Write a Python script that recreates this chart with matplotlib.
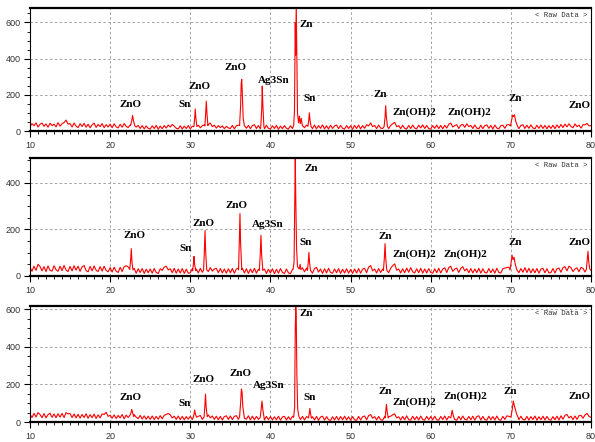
import numpy as np
import matplotlib.pyplot as plt
from matplotlib.ticker import MultipleLocator

# 2theta grid of the background lists: 10.00 .. 80.00 step 0.25
bg_start, bg_step = 10.0, 0.25

# background counts, 20 values per 5 degrees
bg1 = [24, 41, 29, 45, 22, 37, 44, 26, 39, 21, 43, 30, 38, 23, 46, 27, 40, 47, 60, 38,
       41, 22, 44, 27, 19, 40, 25, 42, 21, 38, 18, 34, 44, 20, 36, 24, 41, 19, 35, 22,
       38, 18, 40, 23, 17, 37, 21, 41, 25, 19, 33, 40, 36, 22, 31, 14, 30, 12, 28, 15,
       11, 29, 14, 31, 10, 27, 13, 30, 16, 33, 22, 36, 27, 15, 12, 29, 11, 27, 14, 30,
       12, 26, 30, 15, 32, 18, 29, 34, 14, 36, 44, 24, 32, 16, 30, 19, 28, 13, 26, 17,
       14, 31, 12, 29, 33, 16, 36, 20, 15, 31, 13, 30, 35, 14, 30, 12, 28, 13, 32, 15,
       11, 29, 14, 31, 10, 27, 13, 30, 15, 11, 29, 14, 32, 16, 33, 24, 30, 18, 33, 16,
       31, 13, 33, 12, 30, 15, 34, 12, 29, 11, 32, 14, 28, 33, 13, 31, 15, 11, 30, 14,
       29, 10, 31, 14, 33, 12, 30, 15, 35, 28, 45, 24, 31, 13, 33, 16, 14, 32, 18, 13,
       31, 40, 48, 24, 30, 13, 32, 15, 11, 31, 14, 33, 16, 12, 32, 17, 34, 14, 31, 13,
       11, 30, 15, 33, 13, 31, 12, 32, 16, 37, 44, 22, 30, 35, 14, 32, 37, 20, 40, 24,
       31, 14, 33, 16, 12, 32, 13, 30, 34, 15, 31, 11, 33, 16, 12, 30, 32, 15, 34, 36,
       30, 27, 24, 28, 13, 31, 35, 14, 32, 15, 34, 17, 12, 32, 15, 33, 14, 31, 12, 30,
       14, 32, 13, 34, 17, 36, 19, 38, 23, 40, 25, 18, 39, 24, 33, 16, 35, 34, 42, 28,
       30]
bg2 = [38, 20, 42, 24, 50, 41, 22, 40, 19, 43, 24, 21, 44, 27, 20, 42, 23, 45, 26, 19,
       41, 22, 44, 25, 42, 20, 39, 45, 23, 18, 41, 22, 43, 25, 19, 40, 21, 42, 24, 18,
       36, 17, 38, 21, 15, 37, 19, 40, 44, 39, 22, 16, 33, 12, 31, 15, 32, 11, 29, 14,
       30, 12, 32, 15, 11, 31, 24, 38, 42, 26, 31, 14, 33, 12, 30, 13, 32, 11, 29, 12,
       14, 31, 11, 30, 13, 33, 16, 12, 34, 19, 36, 21, 30, 33, 14, 32, 13, 30, 12, 31,
       14, 32, 12, 30, 34, 15, 33, 13, 31, 11, 30, 14, 33, 12, 29, 32, 13, 30, 11, 29,
       13, 31, 10, 29, 12, 32, 15, 11, 30, 13, 10, 28, 32, 22, 38, 20, 35, 18, 34, 16,
       29, 12, 32, 37, 17, 30, 11, 31, 13, 33, 15, 12, 30, 14, 32, 11, 29, 13, 31, 12,
       28, 11, 30, 13, 32, 12, 29, 33, 14, 38, 45, 22, 30, 13, 32, 15, 30, 12, 31, 14,
       33, 44, 52, 25, 30, 13, 31, 14, 34, 16, 36, 18, 13, 31, 14, 33, 12, 30, 13, 32,
       15, 12, 31, 14, 33, 13, 30, 35, 15, 36, 42, 20, 30, 34, 15, 33, 40, 22, 31, 14,
       32, 13, 30, 14, 33, 12, 31, 15, 13, 32, 14, 30, 12, 33, 15, 13, 31, 34, 36, 38,
       33, 29, 25, 28, 14, 32, 16, 36, 15, 33, 13, 31, 14, 32, 12, 30, 33, 14, 31, 13,
       15, 32, 13, 31, 34, 16, 36, 40, 22, 42, 36, 19, 30, 35, 18, 37, 33, 17, 36, 20,
       24]
bg3 = [42, 24, 46, 27, 50, 40, 23, 45, 22, 39, 47, 25, 43, 23, 44, 26, 46, 24, 50, 44,
       45, 24, 43, 22, 41, 21, 40, 24, 44, 20, 39, 23, 42, 19, 38, 22, 43, 40, 52, 30,
       36, 20, 38, 19, 35, 22, 40, 17, 37, 24, 42, 44, 40, 26, 18, 35, 16, 33, 15, 31,
       14, 32, 13, 30, 15, 34, 17, 36, 40, 46, 38, 22, 31, 14, 32, 13, 30, 12, 29, 15,
       31, 13, 33, 15, 30, 35, 14, 33, 36, 38, 22, 32, 14, 31, 12, 30, 11, 29, 33, 14,
       32, 13, 30, 34, 14, 32, 36, 20, 15, 33, 12, 31, 12, 30, 14, 33, 13, 11, 30, 12,
       29, 11, 28, 12, 31, 10, 27, 30, 11, 28, 12, 31, 33, 14, 32, 13, 30, 11, 29, 12,
       10, 28, 11, 30, 9, 27, 31, 10, 29, 12, 9, 28, 11, 30, 10, 29, 12, 31, 11, 28,
       10, 29, 12, 9, 30, 11, 28, 32, 12, 34, 40, 20, 29, 11, 30, 12, 10, 29, 11, 28,
       31, 38, 44, 22, 28, 11, 30, 12, 33, 13, 10, 31, 12, 29, 11, 32, 13, 10, 30, 12,
       29, 11, 31, 12, 10, 30, 13, 32, 11, 29, 12, 31, 13, 10, 30, 12, 32, 14, 11, 30,
       12, 31, 10, 29, 33, 11, 30, 13, 10, 31, 12, 29, 11, 32, 13, 10, 30, 14, 33, 30,
       32, 28, 24, 27, 12, 31, 14, 11, 30, 10, 29, 13, 32, 10, 28, 12, 31, 11, 30, 13,
       10, 29, 12, 31, 11, 33, 15, 36, 40, 22, 31, 13, 32, 14, 34, 36, 20, 38, 46, 30,
       25]

# peak profiles (2theta, counts)
peaks1 = [
    [(22.55, 30), (22.7, 58), (22.8, 86), (22.92, 55), (23.1, 27)],
    [(30.45, 24), (30.55, 75), (30.62, 122), (30.7, 70), (30.82, 25)],
    [(31.82, 28), (31.92, 95), (32.0, 165), (32.08, 98), (32.2, 30)],
    [(36.15, 30), (36.28, 140), (36.35, 262), (36.42, 285), (36.5, 200), (36.6, 70), (36.75, 30)],
    [(38.8, 26), (38.92, 130), (38.98, 248), (39.05, 150), (39.18, 28)],
    [(42.9, 30), (43.0, 110), (43.1, 600), (43.15, 420), (43.22, 700), (43.3, 380), (43.38, 100),
     (43.5, 45), (43.62, 82), (43.72, 40), (43.85, 70), (43.98, 30)],
    [(44.68, 26), (44.78, 60), (44.86, 100), (44.95, 55), (45.08, 24)],
    [(54.18, 24), (54.3, 75), (54.38, 140), (54.46, 80), (54.6, 26)],
    [(69.95, 28), (70.1, 60), (70.22, 88), (70.32, 80), (70.45, 90), (70.6, 55), (70.8, 30)],
]
peaks2 = [
    [(22.45, 28), (22.56, 70), (22.64, 117), (22.72, 62), (22.85, 26)],
    [(30.3, 22), (30.4, 55), (30.46, 84), (30.54, 50), (30.68, 23)],
    [(31.66, 25), (31.76, 110), (31.84, 195), (31.92, 105), (32.05, 26)],
    [(36.02, 26), (36.12, 150), (36.2, 268), (36.28, 140), (36.42, 28)],
    [(38.62, 24), (38.74, 100), (38.82, 175), (38.9, 95), (39.05, 24)],
    [(42.82, 28), (42.95, 60), (43.03, 300), (43.1, 510), (43.17, 320), (43.26, 120),
     (43.38, 40), (43.6, 30), (43.7, 50), (43.8, 28)],
    [(44.62, 24), (44.72, 60), (44.8, 101), (44.88, 58), (45.0, 24)],
    [(54.1, 24), (54.22, 80), (54.3, 139), (54.38, 78), (54.52, 24)],
    [(69.9, 26), (70.05, 65), (70.15, 89), (70.28, 70), (70.4, 80), (70.55, 50), (70.75, 26)],
    [(79.42, 28), (79.52, 65), (79.62, 106), (79.72, 60), (79.85, 30)],
]
peaks3 = [
    [(22.5, 38), (22.62, 52), (22.7, 67), (22.8, 50), (22.95, 30)],
    [(30.38, 27), (30.48, 45), (30.55, 64), (30.63, 44), (30.78, 26)],
    [(31.72, 27), (31.82, 85), (31.9, 149), (31.98, 80), (32.12, 28)],
    [(36.15, 28), (36.28, 100), (36.38, 176), (36.46, 160), (36.56, 80), (36.72, 28)],
    [(38.72, 24), (38.85, 70), (38.95, 112), (39.05, 68), (39.2, 24)],
    [(42.9, 25), (43.02, 80), (43.1, 500), (43.16, 620), (43.22, 560), (43.3, 250),
     (43.4, 70), (43.55, 30)],
    [(44.75, 22), (44.85, 48), (44.92, 72), (45.0, 45), (45.12, 20)],
    [(54.3, 21), (54.4, 60), (54.48, 94), (54.56, 55), (54.7, 22)],
    [(62.5, 22), (62.6, 45), (62.68, 62), (62.78, 40), (62.92, 21)],
    [(70.0, 26), (70.15, 60), (70.3, 112), (70.42, 90), (70.55, 70), (70.7, 45), (70.9, 25)],
]

# phase labels: (text, 2theta, counts)
labels1 = [("ZnO", 22.5, 148), ("Sn", 29.3, 148), ("ZnO", 31.1, 245), ("ZnO", 35.7, 353),
           ("Ag3Sn", 40.4, 279), ("Zn", 44.45, 587), ("Sn", 44.9, 179), ("Zn", 53.7, 201),
           ("Zn(OH)2", 57.9, 105), ("Zn(OH)2", 64.8, 105), ("Zn", 70.5, 179), ("ZnO", 78.6, 142)]
labels2 = [("ZnO", 23.1, 175), ("Sn", 29.4, 120), ("ZnO", 31.6, 224), ("ZnO", 35.8, 302),
           ("Ag3Sn", 39.7, 221), ("Zn", 45.1, 460), ("Sn", 44.4, 145), ("Zn", 54.3, 170),
           ("Zn(OH)2", 57.9, 95), ("Zn(OH)2", 64.3, 95), ("Zn", 70.5, 145), ("ZnO", 78.6, 146)]
labels3 = [("ZnO", 22.5, 131), ("Sn", 29.3, 99), ("ZnO", 31.6, 227), ("ZnO", 36.3, 259),
           ("Ag3Sn", 39.75, 197), ("Zn", 44.5, 578), ("Sn", 44.9, 131), ("Zn", 54.3, 161),
           ("Zn(OH)2", 57.9, 103), ("Zn(OH)2", 64.3, 135), ("Zn", 69.9, 161), ("ZnO", 78.6, 135)]

ylims = [680, 507, 618]
yticks = [[0, 200, 400, 600], [0, 200, 400], [0, 200, 400, 600]]


def pattern(bg, peaks):
    x = bg_start + bg_step * np.arange(len(bg))
    y = np.array(bg, dtype=float)
    keep = np.ones(len(x), dtype=bool)
    px, py = [], []
    for pk in peaks:
        keep &= ~((x >= pk[0][0]) & (x <= pk[-1][0]))
        px += [p[0] for p in pk]
        py += [p[1] for p in pk]
    xx = np.concatenate([x[keep], px])
    yy = np.concatenate([y[keep], py])
    order = np.argsort(xx)
    return xx[order], yy[order]


fig = plt.figure(figsize=(5.95, 4.42), dpi=100)
boxes = [[0.0504, 0.7036, 0.9429, 0.2783],
         [0.0504, 0.3756, 0.9429, 0.2670],
         [0.0504, 0.0452, 0.9429, 0.2625]]

for box, bg, pk, lab, ym, yt in zip(boxes, [bg1, bg2, bg3], [peaks1, peaks2, peaks3],
                                    [labels1, labels2, labels3], ylims, yticks):
    ax = fig.add_axes(box)
    x, y = pattern(bg, pk)
    ax.plot(x, y, color='#ff0000', lw=0.8)
    ax.set_xlim(10, 80)
    ax.set_ylim(0, ym)
    ax.set_xticks([10, 20, 30, 40, 50, 60, 70, 80])
    ax.set_yticks(yt)
    ax.xaxis.set_minor_locator(MultipleLocator(1))
    ax.yaxis.set_minor_locator(MultipleLocator(50))
    ax.grid(True, which='major', color='#a0a0a0', linestyle=(0, (2.5, 2.5)), lw=0.7)
    ax.tick_params(which='major', direction='out', length=4, width=0.8, labelsize=6.5,
                   labelcolor='#333333', labelfontfamily='Liberation Sans')
    ax.tick_params(which='minor', direction='out', length=2.5, width=0.6)
    ax.tick_params(axis='x', which='major', pad=3.5)
    ax.tick_params(axis='y', which='major', pad=2.5)
    ax.spines['top'].set_linewidth(1.6)
    ax.spines['bottom'].set_linewidth(1.6)
    ax.spines['left'].set_linewidth(0.8)
    ax.spines['right'].set_linewidth(0.8)
    for t, tx, ty in lab:
        ax.text(tx, ty, t, ha='center', va='center', fontsize=8, fontweight='bold',
                family='Liberation Serif', color='black')
    ax.text(0.993, 0.935, '< Raw Data >', transform=ax.transAxes, ha='right', va='center',
            fontsize=5.3, family='Liberation Mono', color='#333333')

fig.savefig('out.png', dpi=100)
